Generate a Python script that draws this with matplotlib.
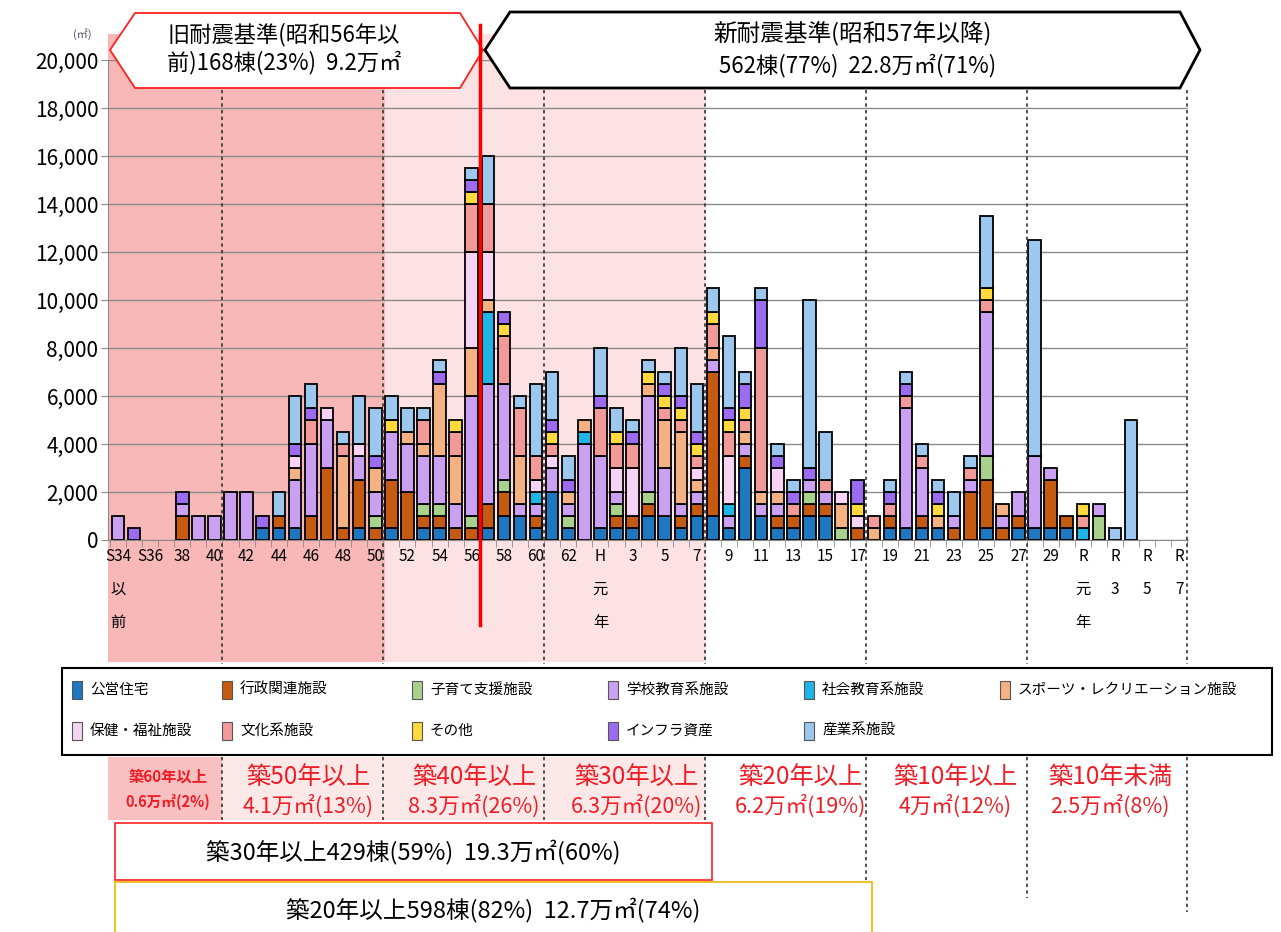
import numpy as np
import matplotlib
matplotlib.use('Agg')
import matplotlib.pyplot as plt
from matplotlib.patches import Rectangle, Polygon
from matplotlib.lines import Line2D

plt.rcParams['font.family'] = ['Noto Sans CJK JP', 'DejaVu Sans']

# 建築年度 (S34以前 ～ R7)
years = (['S34以前'] + [f'S{n}' for n in range(35, 64)] + ['H元'] +
         [f'H{n}' for n in range(2, 31)] + ['R元'] + [f'R{n}' for n in range(2, 8)])

xtick_labels = ['S34\n以\n前', 'S36', '38', '40', '42', '44', '46', '48', '50', '52', '54',
                '56', '58', '60', '62', 'H\n元\n年', '3', '5', '7', '9', '11', '13', '15',
                '17', '19', '21', '23', '25', '27', '29', 'R\n元\n年', 'R\n3', 'R\n5', 'R\n7']

names = ['公営住宅', '行政関連施設', '子育て支援施設', '学校教育系施設', '社会教育系施設',
         'スポーツ・レクリエーション施設', '保健・福祉施設', '文化系施設', 'その他',
         'インフラ資産', '産業系施設']
colors = ['#1f77c0', '#c55a11', '#a9d18e', '#c9a0f2', '#1fb4e6', '#f4b183',
          '#f7d4f4', '#f2999a', '#ffd93d', '#9b6cf2', '#9cc7ee']

# 延床面積 (㎡)  index: 0=S34以前 ... 29=S63, 30=H元 ... 59=H30, 60=R元 ... 66=R7
koei = [0, 0, 0, 0, 0, 0, 0, 0, 0, 500,
        500, 500, 0, 0, 0, 500, 0, 500, 0, 500,
        500, 0, 0, 500, 1000, 1000, 500, 2000, 500, 0,
        500, 500, 500, 1000, 1000, 500, 1000, 1000, 500, 3000,
        1000, 500, 500, 1000, 1000, 0, 0, 0, 500, 500,
        500, 500, 0, 0, 500, 0, 500, 500, 500, 500,
        0, 0, 0, 0, 0, 0, 0]
gyosei = [0, 0, 0, 0, 1000, 0, 0, 0, 0, 0,
          500, 0, 1000, 3000, 500, 2000, 500, 2000, 2000, 500,
          500, 500, 500, 1000, 1000, 0, 500, 0, 0, 0,
          0, 500, 500, 500, 0, 500, 500, 6000, 0, 500,
          0, 500, 500, 500, 500, 0, 500, 0, 500, 0,
          500, 0, 500, 2000, 2000, 500, 500, 0, 2000, 500,
          0, 0, 0, 0, 0, 0, 0]
kosodate = [0, 0, 0, 0, 0, 0, 0, 0, 0, 0,
            0, 0, 0, 0, 0, 0, 500, 0, 0, 500,
            500, 0, 500, 0, 500, 0, 0, 0, 500, 0,
            0, 500, 0, 500, 0, 0, 0, 0, 0, 0,
            0, 0, 0, 500, 0, 500, 0, 0, 0, 0,
            0, 0, 0, 0, 1000, 0, 0, 0, 0, 0,
            0, 1000, 0, 0, 0, 0, 0]
gakko = [1000, 0, 0, 0, 500, 1000, 1000, 2000, 2000, 0,
         0, 2000, 3000, 2000, 0, 1000, 1000, 2000, 2000, 2000,
         2000, 1000, 5000, 5000, 4000, 500, 500, 1000, 500, 4000,
         3000, 500, 0, 4000, 2000, 500, 500, 500, 500, 500,
         500, 500, 0, 500, 500, 0, 0, 0, 0, 5000,
         2000, 0, 500, 500, 6000, 500, 1000, 3000, 500, 0,
         0, 500, 0, 0, 0, 0, 0]
shakai = [0, 0, 0, 0, 0, 0, 0, 0, 0, 0,
          0, 0, 0, 0, 0, 0, 0, 0, 0, 0,
          0, 0, 0, 3000, 0, 0, 500, 0, 0, 500,
          0, 0, 0, 0, 0, 0, 0, 0, 500, 0,
          0, 0, 0, 0, 0, 0, 0, 0, 0, 0,
          0, 0, 0, 0, 0, 0, 0, 0, 0, 0,
          500, 0, 0, 0, 0, 0, 0]
sports = [0, 0, 0, 0, 0, 0, 0, 0, 0, 0,
          0, 500, 0, 0, 3000, 0, 1000, 0, 500, 500,
          3000, 2000, 2000, 500, 0, 2000, 0, 0, 500, 500,
          0, 0, 0, 500, 2000, 3000, 500, 500, 0, 500,
          500, 500, 0, 0, 0, 1000, 0, 500, 0, 0,
          0, 500, 0, 0, 0, 500, 0, 0, 0, 0,
          0, 0, 0, 0, 0, 0, 0]
hoken = [0, 0, 0, 0, 0, 0, 0, 0, 0, 0,
         0, 500, 0, 500, 0, 500, 0, 0, 0, 0,
         0, 0, 4000, 2000, 0, 0, 500, 500, 0, 0,
         0, 1000, 2000, 0, 0, 0, 500, 0, 2000, 0,
         0, 1000, 0, 0, 0, 500, 500, 0, 0, 0,
         0, 0, 0, 0, 0, 0, 0, 0, 0, 0,
         0, 0, 0, 0, 0, 0, 0]
bunka = [0, 0, 0, 0, 0, 0, 0, 0, 0, 0,
         0, 0, 1000, 0, 500, 0, 0, 0, 0, 1000,
         0, 1000, 2000, 2000, 2000, 2000, 1000, 500, 0, 0,
         2000, 1000, 1000, 0, 500, 500, 500, 1000, 1000, 500,
         6000, 0, 500, 0, 500, 0, 0, 500, 500, 500,
         500, 0, 0, 500, 500, 0, 0, 0, 0, 0,
         500, 0, 0, 0, 0, 0, 0]
sonota = [0, 0, 0, 0, 0, 0, 0, 0, 0, 0,
          0, 0, 0, 0, 0, 0, 0, 500, 0, 0,
          0, 500, 500, 0, 500, 0, 0, 500, 0, 0,
          0, 500, 0, 500, 500, 500, 500, 500, 500, 500,
          0, 0, 0, 0, 0, 0, 500, 0, 0, 0,
          0, 500, 0, 0, 500, 0, 0, 0, 0, 0,
          500, 0, 0, 0, 0, 0, 0]
infra = [0, 500, 0, 0, 500, 0, 0, 0, 0, 500,
         0, 500, 500, 0, 0, 0, 500, 0, 0, 0,
         500, 0, 500, 0, 500, 0, 0, 500, 500, 0,
         500, 0, 500, 0, 500, 500, 500, 0, 500, 1000,
         2000, 500, 500, 500, 0, 0, 1000, 0, 500, 500,
         0, 500, 0, 0, 0, 0, 0, 0, 0, 0,
         0, 0, 0, 0, 0, 0, 0]
sangyo = [0, 0, 0, 0, 0, 0, 0, 0, 0, 0,
          1000, 2000, 1000, 0, 500, 2000, 2000, 1000, 1000, 500,
          500, 0, 500, 2000, 0, 500, 3000, 2000, 1000, 0,
          2000, 1000, 500, 500, 500, 2000, 2000, 1000, 3000, 500,
          500, 500, 500, 7000, 2000, 0, 0, 0, 500, 500,
          500, 500, 1000, 500, 3000, 0, 0, 9000, 0, 0,
          0, 0, 500, 5000, 0, 0, 0]

series = [koei, gyosei, kosodate, gakko, shakai, sports, hoken, bunka, sonota, infra, sangyo]

# --- figure / pixel helpers
W, H = 1281, 932
def fx(x): return x / W
def fy(y): return 1 - y / H

XMIN, XMAX = -0.62, 66.54
AX_L, AX_R, AX_T, AX_B = 108, 1188, 60, 540
def dx(i): return fx(AX_L + (i - XMIN) / (XMAX - XMIN) * (AX_R - AX_L))

fig = plt.figure(figsize=(W / 100, H / 100), dpi=100)
fig.patch.set_facecolor('white')

# background shading (築年数の区分)
fig.add_artist(Rectangle((fx(108), fy(662)), fx(385) - fx(108), fy(34) - fy(662),
                         transform=fig.transFigure, facecolor='#f8b8b8', edgecolor='none', zorder=-2))
fig.add_artist(Rectangle((fx(385), fy(662)), fx(706) - fx(385), fy(34) - fy(662),
                         transform=fig.transFigure, facecolor='#fce2e2', edgecolor='none', zorder=-2))
fig.add_artist(Rectangle((fx(108), fy(820)), fx(222) - fx(108), fy(757) - fy(820),
                         transform=fig.transFigure, facecolor='#f8c0c0', edgecolor='none', zorder=-2))
fig.add_artist(Rectangle((fx(222), fy(820)), fx(706) - fx(222), fy(757) - fy(820),
                         transform=fig.transFigure, facecolor='#fde8e8', edgecolor='none', zorder=-2))

ax = fig.add_axes([fx(AX_L), fy(AX_B), fx(AX_R) - fx(AX_L), (AX_B - AX_T) / H])
ax.set_facecolor('none')

x = np.arange(len(years))
bottom = np.zeros(len(years))
for vals, c in zip(series, colors):
    v = np.array(vals, dtype=float)
    m = v > 0
    ax.bar(x[m], v[m], width=0.78, bottom=bottom[m], color=c, edgecolor='black', linewidth=1.3, zorder=3)
    bottom += v

ax.set_xlim(XMIN, XMAX)
ax.set_ylim(0, 20000)
ax.set_yticks(np.arange(0, 20001, 2000))
ax.set_yticklabels([f'{v:,}' for v in range(0, 20001, 2000)])
ax.yaxis.grid(True, color='#8a8a8a', linewidth=1.0)
ax.set_axisbelow(True)
for s in ['top', 'right']:
    ax.spines[s].set_visible(False)
for s in ['left', 'bottom']:
    ax.spines[s].set_color('#8a8a8a')
ax.tick_params(axis='y', length=5, color='#8a8a8a', labelsize=15, pad=2)

ax.set_xticks(x[::2])
ax.set_xticklabels(xtick_labels, fontsize=11, linespacing=2.2, va='top')
ax.set_xticks(np.arange(-0.5, 67, 1), minor=True)
ax.tick_params(axis='x', which='major', length=0, pad=6)
ax.tick_params(axis='x', which='minor', length=5, color='#8a8a8a')

fig.text(fx(82), fy(34), '(㎡)', fontsize=8, color='#505070', ha='center', va='center')

# dotted boundary lines
for b, y_end in [(6.5, 820), (16.5, 820), (26.5, 820), (36.5, 820), (46.5, 880), (56.5, 898), (66.5, 912)]:
    fig.add_artist(Line2D([dx(b), dx(b)], [fy(90), fy(664)], transform=fig.transFigure,
                          color='#333333', linewidth=1.2, linestyle=(0, (2, 2)), zorder=1))
    fig.add_artist(Line2D([dx(b), dx(b)], [fy(757), fy(y_end)], transform=fig.transFigure,
                          color='#333333', linewidth=1.2, linestyle=(0, (2, 2)), zorder=1))

# top annotation boxes
left_pts = [(110, 50), (135, 13), (460, 13), (483, 50), (460, 88), (135, 88)]
right_pts = [(485, 50), (510, 12), (1180, 12), (1200, 50), (1180, 88), (510, 88)]
fig.add_artist(Polygon([(fx(a), fy(b)) for a, b in left_pts], closed=True, transform=fig.transFigure,
                       facecolor='white', edgecolor='#ff2020', linewidth=1.3, zorder=4))
fig.add_artist(Polygon([(fx(a), fy(b)) for a, b in right_pts], closed=True, transform=fig.transFigure,
                       facecolor='white', edgecolor='black', linewidth=2.0, zorder=4))
fig.text(fx(167), fy(35), '旧耐震基準(昭和56年以', fontsize=16, ha='left', va='center', zorder=5)
fig.text(fx(167), fy(63), '前)168棟(23%)  9.2万㎡', fontsize=16, ha='left', va='center', zorder=5)
fig.text(fx(853), fy(33), '新耐震基準(昭和57年以降)', fontsize=17, ha='center', va='center', zorder=5)
fig.text(fx(858), fy(66), '562棟(77%)  22.8万㎡(71%)', fontsize=16, ha='center', va='center', zorder=5)

# 旧/新耐震の境界線
fig.add_artist(Line2D([dx(22.5), dx(22.5)], [fy(25), fy(625)], transform=fig.transFigure,
                      color='#ff0000', linewidth=2.5, zorder=6))

# legend
fig.add_artist(Rectangle((fx(62), fy(755)), fx(1272) - fx(62), fy(668) - fy(755),
                         transform=fig.transFigure, facecolor='white', edgecolor='black',
                         linewidth=1.5, zorder=3))
leg_x = [72, 222, 412, 608, 804, 1000]
leg_y = [690, 731]
for k, (nm, c) in enumerate(zip(names, colors)):
    px = leg_x[k % 6]
    py = leg_y[k // 6]
    fig.add_artist(Rectangle((fx(px), fy(py + 9)), fx(10), fy(py - 9) - fy(py + 9),
                             transform=fig.transFigure, facecolor=c, edgecolor='#555555',
                             linewidth=0.8, zorder=4))
    fig.text(fx(px + 18), fy(py), nm, fontsize=10.5, ha='left', va='center', zorder=5)

# 築年数ラベル
red = '#ee1c25'
fig.text(fx(168), fy(777), '築60年以上', fontsize=11, color=red, ha='center', va='center', weight='bold')
fig.text(fx(168), fy(802), '0.6万㎡(2%)', fontsize=10.5, color=red, ha='center', va='center', weight='bold')
age_labels = ['築50年以上', '築40年以上', '築30年以上', '築20年以上', '築10年以上', '築10年未満']
age_areas = ['4.1万㎡(13%)', '8.3万㎡(26%)', '6.3万㎡(20%)', '6.2万㎡(19%)', '4万㎡(12%)', '2.5万㎡(8%)']
age_x = [308, 474, 636, 800, 955, 1110]
for lab, area, cx in zip(age_labels, age_areas, age_x):
    fig.text(fx(cx), fy(777), lab, fontsize=17.5, color=red, ha='center', va='center')
    fig.text(fx(cx), fy(806), area, fontsize=15.5, color=red, ha='center', va='center')

# summary boxes
fig.add_artist(Rectangle((fx(115), fy(880)), fx(712) - fx(115), fy(823) - fy(880),
                         transform=fig.transFigure, facecolor='white', edgecolor='#ff2020',
                         linewidth=1.2, zorder=3))
fig.text(fx(413), fy(852), '築30年以上429棟(59%)  19.3万㎡(60%)', fontsize=17,
         ha='center', va='center', zorder=5)
fig.add_artist(Rectangle((fx(115), fy(945)), fx(872) - fx(115), fy(882) - fy(945),
                         transform=fig.transFigure, facecolor='white', edgecolor='#f0b400',
                         linewidth=1.2, zorder=3))
fig.text(fx(493), fy(910), '築20年以上598棟(82%)  12.7万㎡(74%)', fontsize=17,
         ha='center', va='center', zorder=5)

fig.savefig('out.png', dpi=100)
